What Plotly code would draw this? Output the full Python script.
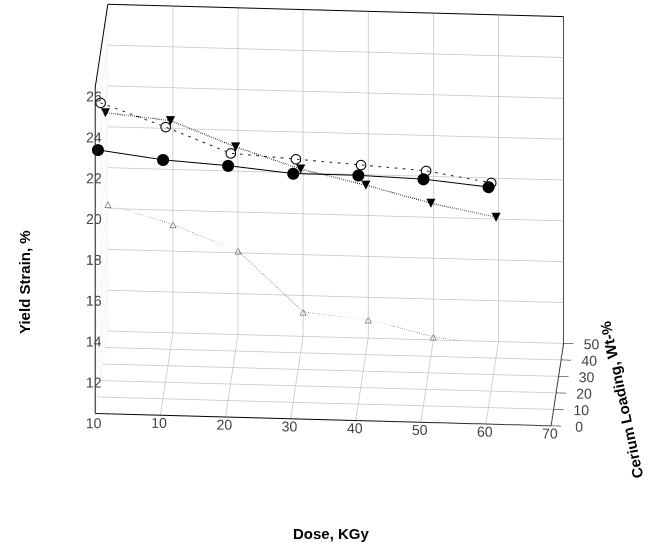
import plotly.graph_objects as go

dose = [0, 10, 20, 30, 40, 50, 60]
cerium_filled_circle = 10
cerium_open_circle = 20
cerium_filled_triangle = 40
cerium_open_triangle = 50
strain_filled_circle = [22.1, 21.7, 21.5, 21.2, 21.2, 21.1, 20.8]
strain_open_circle = [23.6, 22.5, 21.3, 21.1, 20.9, 20.7, 20.2]
strain_filled_triangle = [21.5, 21.2, 20.0, 19.0, 18.3, 17.5, 16.9]
strain_open_triangle = [16.2, 15.3, 14.1, 11.2, 10.9, 10.15, 9.8]

dose_ticks = [10, 20, 30, 40, 50, 60, 70]
cerium_ticks = [0, 10, 20, 30, 40, 50]
strain_ticks = [10, 12, 14, 16, 18, 20, 22, 24, 26]

fig = go.Figure()

def line_series(strain, cerium, dash, width, color):
    return go.Scatter3d(x=dose, y=[cerium] * len(dose), z=strain, mode="lines",
                        line=dict(color=color, width=width, dash=dash),
                        showlegend=False, hoverinfo="skip")

fig.add_trace(line_series(strain_filled_circle, cerium_filled_circle, "solid", 2, "black"))
fig.add_trace(go.Scatter3d(x=dose, y=[cerium_filled_circle] * 7, z=strain_filled_circle, mode="markers",
                           marker=dict(symbol="circle", size=7, color="black"), showlegend=False))
fig.add_trace(line_series(strain_open_circle, cerium_open_circle, "dash", 2, "#222222"))
fig.add_trace(go.Scatter3d(x=dose, y=[cerium_open_circle] * 7, z=strain_open_circle, mode="markers",
                           marker=dict(symbol="circle-open", size=6, color="black"), showlegend=False))
fig.add_trace(line_series(strain_filled_triangle, cerium_filled_triangle, "dot", 2.5, "black"))
fig.add_trace(go.Scatter3d(x=dose, y=[cerium_filled_triangle] * 7, z=strain_filled_triangle, mode="text",
                           text=["▼"] * 7, textposition="middle center",
                           textfont=dict(size=12, color="black", family="DejaVu Sans"), showlegend=False))
fig.add_trace(line_series(strain_open_triangle, cerium_open_triangle, "dot", 1.5, "#555555"))
fig.add_trace(go.Scatter3d(x=dose, y=[cerium_open_triangle] * 7, z=strain_open_triangle, mode="text",
                           text=["△"] * 7, textposition="middle center",
                           textfont=dict(size=9, color="#333333", family="DejaVu Sans"), showlegend=False))

axis_common = dict(showbackground=False, gridcolor="#c4c4c4", gridwidth=1.5,
                   showline=True, linecolor="black", linewidth=2, mirror=True,
                   tickfont=dict(family="Liberation Sans", size=13, color="#444444"),
                   tickangle=0, zeroline=False, showspikes=False, title=dict(text=""))

title_font = dict(family="Liberation Sans", size=15, color="black", weight="bold")

fig.update_layout(
    width=648, height=543, margin=dict(l=0, r=0, t=0, b=0),
    paper_bgcolor="white",
    scene=dict(
        domain=dict(x=[0, 1], y=[0, 1]),
        aspectmode="manual",
        aspectratio=dict(x=1.682, y=0.72, z=1.328),
        camera=dict(eye=dict(x=0.0714, y=-1.4256, z=0.436),
                    center=dict(x=-0.02, y=0, z=-0.23),
                    up=dict(x=0, y=0, z=1),
                    projection=dict(type="orthographic")),
        xaxis=dict(range=[0, 70], tickvals=dose_ticks, ticks="", **axis_common),
        yaxis=dict(range=[0, 50], tickvals=cerium_ticks, ticks="outside", ticklen=5,
                   tickcolor="black", **axis_common),
        zaxis=dict(range=[10, 26], tickvals=strain_ticks, ticks="outside", ticklen=4,
                   tickcolor="black", **axis_common),
    ),
)

fig.add_annotation(text="Dose, KGy", x=331 / 648, y=1 - 533 / 543, xref="paper", yref="paper",
                   showarrow=False, font=title_font, xanchor="center", yanchor="middle")
fig.add_annotation(text="Yield Strain, %", x=24 / 648, y=1 - 282 / 543, xref="paper", yref="paper",
                   showarrow=False, font=title_font, textangle=-90, xanchor="center", yanchor="middle")
fig.add_annotation(text="Cerium Loading, Wt-%", x=621 / 648, y=1 - 400 / 543, xref="paper", yref="paper",
                   showarrow=False, font=title_font, textangle=-102, xanchor="center", yanchor="middle")

fig.write_html("out.html")
